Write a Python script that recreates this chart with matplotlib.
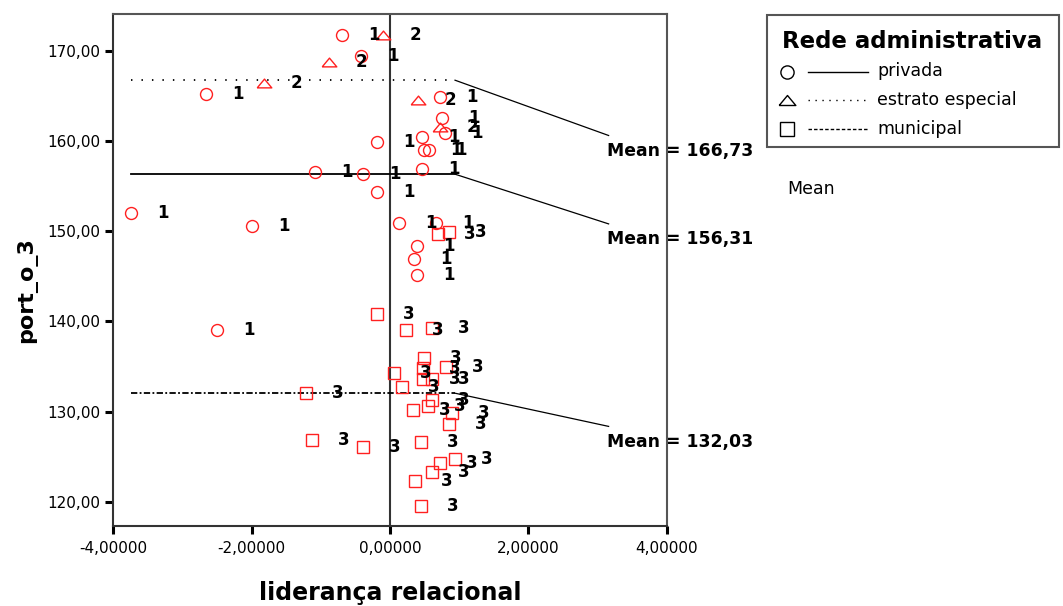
import matplotlib
matplotlib.use("Agg")
import matplotlib.pyplot as plt
from matplotlib.patches import Rectangle

# Valores (liderança relacional x port_o_3)
privada_x = [-0.694, -0.419, -2.660, 0.723, 0.752, 0.795, 0.463, -0.188, 0.491, 0.564,
             -1.084, -0.390, 0.463, -0.188, -3.744, -1.995, 0.130, 0.665, 0.390, 0.347,
             0.390, -2.501]
privada_y = [171.74, 169.41, 165.20, 164.87, 162.54, 160.88, 160.43, 159.88, 158.99, 158.99,
             156.55, 156.33, 156.88, 154.34, 152.01, 150.57, 150.90, 150.90, 148.35, 146.91,
             145.13, 139.04]

estrato_x = [-0.101, -0.882, -1.821, 0.405, 0.723]
estrato_y = [171.74, 168.74, 166.41, 164.53, 161.53]

municipal_x = [-0.188, 0.231, 0.607, 0.491, 0.809, 0.477, 0.058, 0.477, 0.607, 0.173,
               -1.214, 0.607, 0.549, 0.332, 0.896, 0.853, -1.128, -0.390, 0.448, 0.940,
               0.723, 0.607, 0.361, 0.448, 0.694, 0.853]
municipal_y = [140.81, 139.04, 139.26, 135.93, 134.94, 134.82, 134.27, 133.61, 133.61, 132.72,
               132.05, 131.28, 130.61, 130.17, 129.84, 128.62, 126.85, 126.07, 126.63, 124.74,
               124.30, 123.30, 122.30, 119.53, 149.68, 149.90]

grupos = ["privada", "estrato especial", "municipal"]
codigos = ["1", "2", "3"]
medias = [156.31, 166.73, 132.03]
medias_txt = ["Mean = 156,31", "Mean = 166,73", "Mean = 132,03"]

yticks = [120, 130, 140, 150, 160, 170]
ytick_labels = ["120,00", "130,00", "140,00", "150,00", "160,00", "170,00"]
xticks = [-4, -2, 0, 2, 4]
xtick_labels = ["-4,00000", "-2,00000", "0,00000", "2,00000", "4,00000"]

plt.rcParams["font.family"] = "DejaVu Sans"

W, H = 1063, 606
fig = plt.figure(figsize=(W / 100, H / 100), dpi=100)
ax = fig.add_axes([0.1066, 0.1325, 0.5206, 0.8444])

vermelho = "#ff2020"
# triângulo achatado, como o do SPSS (polígono fechado)
tri = [(-1, -0.6), (1, -0.6), (0, 0.6), (-1, -0.6)]
estilos = [
    dict(marker="o", ms=8.6),
    dict(marker=tri, ms=10.5),
    dict(marker="s", ms=8.6),
]
dados = [(privada_x, privada_y), (estrato_x, estrato_y), (municipal_x, municipal_y)]

for (xs, ys), est, cod in zip(dados, estilos, codigos):
    ax.plot(xs, ys, ls="none", mfc="none", mec=vermelho, mew=1.0, zorder=3, **est)
    for x, y in zip(xs, ys):
        ax.annotate(cod, (x, y), xytext=(32, 0), textcoords="offset pixels",
                    ha="center", va="center", fontsize=12, fontweight="bold",
                    color="black", zorder=4)

# linha de referência em x = 0
ax.axvline(0, color="#333333", lw=1.5, zorder=2)

# linhas de média
todos_x = privada_x + estrato_x + municipal_x
xmin, xmax = min(todos_x), max(todos_x)
estilos_linha = ["-", (0, (0.8, 5.0)), (0, (3.5, 1.3, 1.0, 1.3))]
rotulo_y = [149.1, 158.9, 126.65]
for m, ls, txt, ty in zip(medias, estilos_linha, medias_txt, rotulo_y):
    ax.plot([xmin, xmax], [m, m], color="black", lw=1.3, ls=ls, zorder=2)
    ax.plot([xmax, 3.16], [m, ty + 1.7], color="black", lw=0.9, zorder=2)
    ax.text(3.13, ty, txt, ha="left", va="center", fontsize=12.4,
            fontweight="bold", clip_on=False, zorder=1)

ax.set_xlim(-4, 4)
ax.set_ylim(117.34, 174.07)
ax.set_xticks(xticks)
ax.set_xticklabels(xtick_labels)
ax.set_yticks(yticks)
ax.set_yticklabels(ytick_labels)
ax.tick_params(direction="out", length=6, width=2.2, labelsize=11, color="black")
ax.tick_params(axis="y", pad=3.5)
ax.tick_params(axis="x", pad=5)
for s in ax.spines.values():
    s.set_color("#555555")
    s.set_linewidth(1.5)
ax.spines["left"].set_color("#333333")
ax.spines["bottom"].set_color("#333333")

fig.text(390 / W, 1 - 593 / H, "liderança relacional", ha="center", va="center",
         fontsize=17, fontweight="bold")
fig.text(27 / W, 1 - 290 / H, "port_o_3", ha="center", va="center",
         rotation=90, fontsize=16, fontweight="bold")

# legenda desenhada à mão (estilo SPSS)
lax = fig.add_axes([0, 0, 1, 1])
lax.set_xlim(0, W)
lax.set_ylim(H, 0)
lax.axis("off")
lax.add_patch(Rectangle((767, 15), 292, 132, fill=False, edgecolor="#555555", lw=1.5))
lax.text(782, 41, "Rede administrativa", ha="left", va="center",
         fontsize=16.5, fontweight="bold")
leg_y = [71.5, 100, 128.5]
leg_ls = ["-", (0, (1.0, 4.0)), (0, (2.5, 1.5))]
leg_mk = ["o", tri, "s"]
leg_ms = [9.5, 12, 10.5]
for gy, nome, ls, mk, ms in zip(leg_y, grupos, leg_ls, leg_mk, leg_ms):
    lax.plot([787], [gy], marker=mk, ms=ms, mfc="none", mec="black", mew=1.0)
    lax.plot([808, 868], [gy, gy], color="black", lw=1.0, ls=ls)
    lax.text(877, gy, nome, ha="left", va="center", fontsize=12.5)
lax.text(787, 189, "Mean", ha="left", va="center", fontsize=12.5)

fig.savefig("out.png", dpi=100)
